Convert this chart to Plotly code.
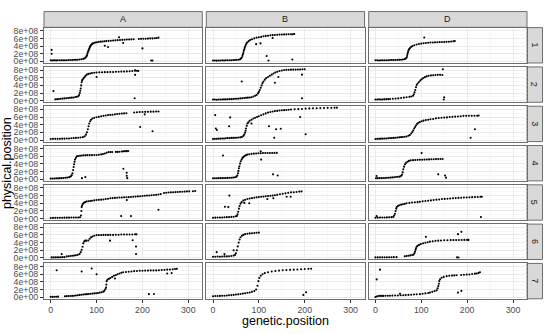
import plotly.graph_objects as go

genomes = ["A", "B", "D"]
chroms = ["1", "2", "3", "4", "5", "6", "7"]
x_ticks = [0, 100, 200, 300]
x_minor = [50, 150, 250]
y_ticks = [0, 2, 4, 6, 8]          # physical position in units of 1e8
y_minor = [1, 3, 5, 7]
y_tick_labels = ["0e+00", "2e+08", "4e+08", "6e+08", "8e+08"]

# (genetic.position, physical.position / 1e8)
pts_1A = [(0,0.3),(2,3.0),(2,2.0),(3,0.25),(6,0.3),(9,0.3),(12,0.25),(15,0.3),(19,0.3),(23,0.3),(27,0.3),(31,0.3),(35,0.3),(39,0.35),(43,0.35),(47,0.35),(51,0.4),(55,0.4),(59,0.45),(63,0.5),(67,0.55),(71,0.65),(74,0.8),(76,1.0),(78,1.3),(79,1.6),(80,2.0),(81,2.4),(82,2.7),(83,3.0),(84,3.3),(85,3.6),(86,3.9),(87,4.1),(88,4.3),(90,4.5),(92,4.7),(95,4.85),(98,4.95),(101,5.0),(105,5.1),(109,5.15),(113,5.2),(117,5.25),(121,5.3),(126,5.35),(131,5.4),(136,5.45),(141,5.5),(146,5.55),(151,5.6),(156,5.62),(161,5.65),(166,5.7),(171,5.72),(176,5.75),(181,5.8),(192,5.85),(197,5.88),(202,5.9),(207,5.92),(212,5.95),(217,6.0),(222,6.0),(227,6.05),(231,6.1),(235,6.2),
          (118,4.1),(125,3.75),(149,6.3),(158,4.8),(200,3.4),(219,0.25),(222,0.25)]
pts_1B = [(0,0.25),(4,0.25),(8,0.2),(12,0.25),(16,0.25),(20,0.3),(24,0.25),(28,0.3),(32,0.3),(36,0.3),(40,0.3),(44,0.35),(48,0.35),(52,0.4),(56,0.45),(59,0.55),(61,0.75),(62.5,0.95),(64,1.4),(65,1.8),(66,2.2),(67,2.7),(68,3.1),(69,3.5),(70,3.9),(71.5,4.3),(73,4.7),(75,5.0),(78,5.3),(81,5.6),(85,5.8),(90,6.0),(95,6.2),(100,6.3),(105,6.4),(110,6.55),(115,6.65),(120,6.7),(125,6.8),(130,6.85),(135,6.9),(140,6.95),(145,7.0),(150,7.0),(155,7.05),(160,7.05),(165,7.1),(170,7.1),(174,7.1),(177,7.15),
          (94,4.5),(103.6,4.7),(130,6.1),(117,1.4),(121,0.25),(173,0.5)]
pts_1D = [(0,0.3),(4,0.3),(8,0.25),(12,0.3),(16,0.3),(20,0.3),(24,0.3),(28,0.3),(32,0.35),(36,0.35),(40,0.35),(44,0.35),(48,0.4),(52,0.4),(56,0.45),(60,0.5),(64,0.6),(66,0.75),(68,0.95),(69,1.4),(70,1.9),(71,2.4),(72,2.8),(73.5,3.2),(75.5,3.5),(78,3.8),(81,4.0),(85,4.2),(90,4.4),(95,4.55),(100,4.65),(105,4.75),(110,4.82),(115,4.88),(120,4.92),(125,4.95),(130,4.97),(135,5.0),(140,5.02),(145,5.05),(150,5.08),(155,5.1),(160,5.12),(165,5.2),(170,5.25),(173,5.3),
          (106.5,6.25)]
pts_2A = [(6,2.5),(10,0.35),(14,0.4),(18,0.45),(22,0.5),(26,0.55),(30,0.6),(34,0.65),(38,0.7),(42,0.75),(46,0.8),(50,0.85),(54,0.95),(57,1.05),(60,1.15),(62,1.5),(63.5,2.0),(64.5,2.6),(65.5,3.2),(66.5,4.0),(67.5,4.8),(68.5,5.3),(70,5.6),(72,5.9),(74,6.2),(76,6.5),(78.5,6.8),(82,7.0),(86,7.1),(90,7.2),(95,7.3),(100,7.35),(106,7.4),(112,7.42),(118,7.45),(124,7.45),(130,7.5),(136,7.5),(142,7.55),(148,7.55),(154,7.6),(160,7.6),(166,7.65),(172,7.7),(178,7.75),(184,7.8),(188,7.8),(191,7.75),
          (100,6.2),(184,6.75),(183,0.65),(184,7.95)]
pts_2B = [(0,0.3),(4,0.3),(8,0.25),(12,0.3),(16,0.3),(20,0.3),(24,0.35),(28,0.35),(32,0.35),(36,0.4),(40,0.4),(44,0.45),(48,0.5),(52,0.5),(56,0.55),(60,0.6),(64,0.65),(68,0.7),(72,0.75),(76,0.8),(80,0.85),(84,0.9),(88,1.1),(92,1.3),(95,1.5),(98,1.9),(100,2.3),(102,2.8),(104,3.4),(106,4.0),(108,4.6),(110,5.0),(113,5.5),(116,5.9),(120,6.2),(124,6.5),(128,6.8),(132,7.1),(136,7.35),(140,7.55),(145,7.75),(150,7.9),(155,8.0),(160,8.05),(165,8.05),(170,8.1),(175,8.1),(180,8.12),(185,8.15),(190,8.15),(195,8.2),(200,8.2),
          (62.6,5.0),(142.5,6.2),(135,4.7),(194,6.8),(194,0.65)]
pts_2D = [(0,0.3),(4,0.3),(8,0.35),(12,0.3),(16,0.35),(20,0.35),(24,0.4),(28,0.4),(32,0.45),(38,0.5),(44,0.55),(50,0.6),(56,0.7),(62,0.8),(68,0.9),(74,1.0),(78,1.1),(82,1.3),(84,1.7),(85.5,2.2),(87,2.8),(88.5,3.5),(90,4.1),(92,4.5),(95,4.9),(98,5.3),(101,5.6),(104,5.9),(108,6.15),(112,6.35),(116,6.5),(121,6.6),(126,6.65),(131,6.7),(136,6.75),(141,6.75),(146,6.7),
          (147,8.2),(150,0.9),(149,0.3)]
pts_3A = [(0,0.25),(5,0.3),(10,0.3),(15,0.3),(20,0.3),(25,0.35),(30,0.35),(35,0.4),(40,0.4),(45,0.45),(50,0.5),(55,0.55),(60,0.6),(65,0.65),(70,0.75),(74,0.95),(77,1.4),(79,2.0),(81,2.8),(82.5,3.6),(84,4.3),(86,4.9),(88,5.3),(91,5.6),(95,5.8),(100,5.95),(105,6.05),(110,6.2),(115,6.3),(120,6.4),(125,6.5),(130,6.55),(135,6.6),(140,6.7),(145,6.8),(150,6.85),(155,6.9),(160,6.95),(165,7.0),(182,7.2),(188,7.25),(194,7.3),(200,7.3),(206,7.35),(212,7.35),(218,7.4),(224,7.4),(230,7.45),(235,7.45),
          (195,3.4),(222,2.3),(205,6.7)]
pts_3B = [(0,0.28),(4,0.3),(8,0.3),(12,0.35),(16,0.35),(20,0.4),(24,0.4),(28,0.45),(32,0.5),(36,0.5),(40,0.55),(44,0.55),(48,0.6),(52,0.6),(56,0.65),(60,0.7),(63,0.8),(66,1.05),(68,1.4),(70,1.9),(71,2.4),(72,3.0),(73.5,3.7),(75,4.3),(77,4.6),(80,5.0),(84,5.3),(88,5.6),(92,5.8),(96,6.0),(100,6.2),(105,6.45),(110,6.7),(115,6.95),(120,7.15),(125,7.3),(130,7.45),(135,7.55),(140,7.6),(145,7.7),(150,7.75),(155,7.8),(160,7.85),(165,7.9),(170,7.95),(178,8.0),(186,8.05),(194,8.1),(202,8.2),(210,8.25),(218,8.3),(226,8.3),(234,8.35),(242,8.35),(250,8.4),(258,8.4),(265,8.45),(270,8.45),
          (4.8,6.5),(6.2,3.0),(8.4,2.6),(37.4,5.9),(35.2,3.6),(84,4.3),(122,3.6),(137.5,2.8),(147.7,2.95),(133.4,0.6),(190,6.0),(202,1.5)]
pts_3D = [(0,0.28),(4,0.3),(8,0.3),(12,0.35),(16,0.35),(20,0.4),(24,0.4),(28,0.45),(32,0.5),(36,0.5),(40,0.55),(44,0.6),(48,0.65),(52,0.7),(56,0.75),(60,0.8),(64,0.85),(68,0.9),(72,1.1),(75,1.3),(78,1.7),(80.5,2.1),(82.5,2.5),(84.5,3.0),(86.5,3.4),(88.5,3.8),(91,4.2),(94,4.5),(97,4.7),(101,4.9),(105,5.05),(110,5.2),(115,5.3),(120,5.4),(126,5.5),(132,5.65),(138,5.75),(144,5.8),(150,5.85),(156,5.9),(162,6.0),(168,6.05),(174,6.1),(180,6.15),(186,6.2),(192,6.3),(198,6.3),(204,6.32),(210,6.35),(216,6.35),(222,6.35),(225,6.4),
          (217,2.8),(207.7,0.6)]
pts_4A = [(0,0.18),(4,0.2),(8,0.2),(12,0.25),(16,0.25),(20,0.3),(24,0.3),(28,0.35),(32,0.4),(36,0.45),(40,0.55),(42,0.65),(44,0.8),(46,1.1),(47.5,1.6),(49,2.4),(50,3.2),(51,3.9),(52,4.6),(53,5.15),(55,5.6),(57,6.0),(60,6.1),(64,6.15),(68,6.2),(72,6.25),(76,6.25),(80,6.3),(85,6.3),(90,6.32),(95,6.35),(100,6.35),(105,6.4),(110,6.5),(114,6.6),(118,6.75),(122,6.95),(126,7.1),(130,7.1),(134,7.1),(142,7.15),(146,7.15),(150,7.2),(155,7.25),(158,7.3),(162,7.35),(166,7.35),(169,7.4),
          (68.2,0.3),(75.5,0.6),(158.5,2.75),(165.7,1.7),(165.7,0.9),(167,0.3)]
pts_4B = [(0,0.26),(4,0.28),(8,0.28),(12,0.3),(16,0.3),(20,0.32),(24,0.33),(28,0.35),(32,0.37),(36,0.4),(40,0.42),(44,0.45),(48,0.55),(51,0.7),(53,1.0),(54.5,1.6),(55.5,2.2),(56.5,2.9),(57.5,3.4),(59,4.1),(60.5,4.7),(62.5,5.2),(64.5,5.6),(66.5,5.85),(69,6.1),(72,6.3),(75,6.45),(79,6.55),(84,6.65),(89,6.7),(94,6.75),(99,6.8),(104,6.82),(109,6.85),(114,6.85),(119,6.85),(124,6.87),(129,6.87),(134,6.9),(139,6.9),
          (21.8,6.2),(104,7.3),(105,5.15),(130.8,1.3),(141,1.0)]
pts_4D = [(1.3,0.26),(2.5,0.85),(5,0.3),(9,0.3),(13,0.32),(17,0.35),(21,0.35),(25,0.4),(29,0.42),(33,0.45),(37,0.5),(41,0.55),(45,0.6),(49,0.65),(53,0.7),(56,0.9),(58,1.2),(59.5,1.8),(60.8,2.6),(62.5,3.3),(64.5,3.9),(67,4.3),(70,4.6),(73,4.8),(77,4.95),(82,5.0),(87,5.05),(92,5.08),(97,5.1),(102,5.12),(107,5.15),(112,5.18),(117,5.2),(122,5.22),(127,5.25),(132,5.27),(137,5.28),(142,5.3),(146.5,5.3),
          (100.8,6.85),(137,1.3),(151.7,1.0),(154,0.43)]
pts_5A = [(0,0.15),(5,0.18),(10,0.2),(15,0.2),(20,0.22),(25,0.22),(30,0.25),(35,0.25),(40,0.25),(45,0.28),(50,0.28),(55,0.3),(60,0.3),(64,0.35),(66,0.8),(67,2.0),(67.5,3.0),(68.5,3.4),(70,3.8),(72,4.1),(75,4.3),(78,4.45),(82,4.55),(86,4.6),(90,4.65),(95,4.75),(100,4.85),(105,4.9),(110,4.95),(115,5.0),(120,5.1),(125,5.2),(130,5.3),(135,5.35),(140,5.4),(145,5.45),(150,5.5),(155,5.52),(160,5.55),(165,5.58),(170,5.6),(175,5.65),(180,5.7),(185,5.75),(190,5.8),(195,5.85),(200,5.9),(205,5.95),(210,6.0),(215,6.05),(220,6.1),(225,6.15),(230,6.2),(235,6.3),(240,6.4),(247,6.7),(252,6.75),(257,6.8),(262,6.85),(267,6.9),(272,6.92),(277,6.95),(282,6.98),(287,7.0),(292,7.05),(297,7.1),(302,7.12),(310,7.15),(315,7.2),
          (166,4.85),(235,2.3),(153.5,0.65),(175,0.65)]
pts_5B = [(0,0.23),(5,0.25),(10,0.28),(15,0.3),(20,0.3),(25,0.35),(30,0.38),(35,0.4),(40,0.45),(45,0.5),(50,0.6),(52,0.7),(53.5,1.1),(55,1.8),(56.5,2.6),(58,3.3),(60,3.9),(62.5,4.3),(66,4.7),(70,4.9),(75,5.1),(80,5.25),(85,5.35),(90,5.45),(95,5.55),(100,5.62),(105,5.7),(110,5.75),(115,5.82),(120,5.9),(125,5.95),(130,6.0),(135,6.1),(140,6.2),(146,6.35),(152,6.5),(158,6.6),(164,6.75),(170,6.85),(176,6.9),(182,6.95),(188,7.05),(193,7.1),
          (35.7,6.0),(26,3.1),(33.4,3.0),(68.3,4.1),(79,4.0),(118.5,5.1),(131.6,5.3),(160.6,5.7),(169.3,5.7)]
pts_5D = [(0,0.23),(2.7,0.65),(5,0.25),(10,0.28),(15,0.3),(20,0.3),(25,0.32),(30,0.35),(35,0.38),(39,0.45),(41,0.8),(42.7,1.25),(44,2.0),(45.5,2.6),(46.5,3.0),(49,3.3),(52,3.5),(56,3.65),(60,3.75),(64,3.85),(68,4.0),(74,4.1),(80,4.2),(86,4.25),(92,4.3),(97,4.4),(103,4.5),(109,4.6),(115,4.65),(121,4.75),(127,4.85),(133,4.95),(139,5.0),(145,5.1),(151,5.15),(157,5.2),(163,5.25),(169,5.3),(175,5.35),(181,5.4),(187,5.45),(193,5.5),(199,5.52),(205,5.55),(211,5.6),(217,5.62),(223,5.65),(229,5.7),(232,5.72),
          (230,0.4)]
pts_6A = [(2,0.13),(6,0.13),(10,0.15),(14,0.15),(18,0.15),(22,0.18),(26,0.2),(30,0.2),(35,0.4),(39,0.45),(43,0.5),(47,0.55),(51,0.6),(55,0.7),(59,0.8),(63,1.0),(65.5,1.5),(67.5,2.1),(69.5,2.9),(71.2,3.8),(73,4.3),(75,4.5),(78,4.5),(82,4.55),(85,5.0),(88,5.4),(91,5.6),(95,5.8),(100,5.95),(105,5.95),(110,5.95),(115,6.0),(120,6.0),(125,6.0),(130,6.0),(136,6.0),(142,6.05),(148,6.05),(154,6.1),(160,6.1),(166,6.1),(172,6.1),(178,6.12),(184,6.15),(187,6.15),
          (23.9,1.0),(129.3,4.5),(178.7,4.6),(186,2.95),(186,1.0)]
pts_6B = [(0,0.3),(5,0.3),(10,0.35),(15,0.3),(20,0.35),(25,0.4),(30,0.4),(35,0.45),(40,0.5),(45,0.6),(48,0.8),(50,1.2),(52,2.0),(54,3.0),(56,4.0),(58,4.8),(60,5.4),(63,5.8),(66,6.0),(70,6.2),(75,6.3),(80,6.4),(85,6.45),(90,6.5),(95,6.55),(100,6.6),
          (8,1.5),(25,1.0),(45,2.0)]
pts_6D = [(0,0.13),(5,0.13),(10,0.15),(15,0.15),(20,0.15),(25,0.15),(30,0.18),(35,0.18),(40,0.2),(46,0.2),(64,0.45),(68,0.5),(72,0.55),(76,0.65),(80,0.75),(83,0.85),(85,1.2),(86.3,1.6),(87.5,2.1),(88.5,2.5),(90,2.9),(92,3.15),(95,3.4),(99,3.6),(104,3.8),(109,3.95),(114,4.1),(119,4.25),(125,4.35),(131,4.45),(137,4.5),(143,4.55),(150,4.6),(157,4.62),(164,4.65),(170,4.65),(176,4.65),(182,4.68),(188,4.68),(194,4.7),(200,4.7),(203,4.7),
          (110,5.5),(180,6.2),(187.5,6.8),(178,0.15),(181,0.1)]
pts_7A = [(0,0.1),(4,0.1),(8,0.12),(12,0.12),(16,0.15),(31,0.26),(35,0.28),(39,0.3),(43,0.33),(47,0.35),(51,0.4),(55,0.45),(59,0.5),(63,0.6),(67,0.65),(71,0.7),(75,0.75),(79,0.8),(83,0.85),(87,0.9),(91,0.95),(95,1.0),(99,1.05),(103,1.1),(107,1.2),(111,1.3),(114.7,1.45),(117,1.7),(119,2.1),(120.6,2.5),(121.3,3.3),(122,4.2),(124,4.6),(127,4.8),(130,5.0),(134,5.3),(138,5.6),(142,5.8),(146,6.0),(150,6.2),(154,6.4),(158,6.5),(164,6.6),(170,6.65),(176,6.7),(182,6.8),(188,6.85),(194,6.9),(200,6.92),(206,6.95),(212,6.95),(218,7.0),(224,7.0),(230,7.0),(236,7.05),(242,7.1),(248,7.15),(254,7.2),(260,7.25),(266,7.3),(271,7.35),(275,7.4),
          (13,7.05),(67.5,6.7),(89.3,7.5),(100,6.0),(140,4.9),(214,0.8),(225,0.85),(254,6.2),(263.7,6.3)]
pts_7B = [(0,0.25),(5,0.3),(10,0.3),(15,0.35),(20,0.4),(25,0.4),(30,0.45),(35,0.5),(40,0.55),(45,0.6),(50,0.7),(55,0.75),(60,0.85),(65,0.95),(70,1.05),(75,1.15),(80,1.25),(85,1.4),(90,1.6),(94,2.0),(97,3.0),(99,4.2),(101,5.0),(104,5.6),(108,6.0),(113,6.3),(120,6.5),(128,6.7),(136,6.85),(144,6.95),(152,7.05),(160,7.1),(168,7.15),(176,7.2),(184,7.25),(192,7.3),(200,7.35),(208,7.4),(214,7.45),
          (197,0.6),(203,1.3)]
pts_7D = [(0,0.05),(2.8,0.2),(6,0.3),(10,0.35),(14,0.35),(17.3,0.35),(22,0.4),(27,0.4),(31.8,0.4),(37,0.42),(43,0.45),(49,0.45),(55,0.5),(60.8,0.5),(66,0.55),(72,0.6),(78,0.65),(84,0.7),(90,0.75),(97,0.8),(103,0.9),(109,1.0),(115,1.1),(119,1.2),(124,1.4),(129,1.6),(133.6,1.8),(135.5,2.3),(137.2,2.9),(138.3,3.5),(139.3,4.2),(141,4.7),(144.5,5.1),(149,5.3),(155.4,5.5),(161,5.6),(167,5.65),(172,5.7),(177,5.75),(187,5.8),(193,5.85),(199,5.9),(205,5.95),(211,6.05),(217,6.15),(221,6.2),(225,6.35),(228,6.5),
          (10,7.2),(2.8,4.65),(180,1.2),(187.5,1.65),(53.6,0.9)]

panel_data = {
    "1A": pts_1A, "1B": pts_1B, "1D": pts_1D,
    "2A": pts_2A, "2B": pts_2B, "2D": pts_2D,
    "3A": pts_3A, "3B": pts_3B, "3D": pts_3D,
    "4A": pts_4A, "4B": pts_4B, "4D": pts_4D,
    "5A": pts_5A, "5B": pts_5B, "5D": pts_5D,
    "6A": pts_6A, "6B": pts_6B, "6D": pts_6D,
    "7A": pts_7A, "7B": pts_7B, "7D": pts_7D,
}

W, H = 550, 334
col_left = [44.0, 206.3, 368.7]
pw = 158.3
row_top0, row_step, ph = 26.0, 39.9, 35.9
x_range = [-14.6, 330.5]
y_range = [-0.41, 8.82]

FONT = "Liberation Sans, Arial, sans-serif"
tickfont = dict(family=FONT, size=8.8, color="#4D4D4D")
border = "#6E6E6E"

fig = go.Figure()
layout = dict(
    width=W, height=H, margin=dict(l=0, r=0, t=0, b=0),
    paper_bgcolor="white", plot_bgcolor="white", showlegend=False,
)
shapes, annotations = [], []

def px_x(v):
    return v / W

def px_y(v):
    return 1 - v / H

for r, ch in enumerate(chroms):
    top = row_top0 + r * row_step
    for c, gn in enumerate(genomes):
        k = r * 3 + c + 1
        sfx = "" if k == 1 else str(k)
        left = col_left[c]
        pts = panel_data[ch + gn]
        fig.add_trace(go.Scatter(
            x=[p[0] for p in pts], y=[p[1] for p in pts],
            mode="markers", xaxis="x" + sfx, yaxis="y" + sfx,
            marker=dict(size=2.1, color="black", line=dict(width=0)),
            hoverinfo="skip",
        ))
        bottom_row = (r == len(chroms) - 1)
        first_col = (c == 0)
        layout["xaxis" + sfx] = dict(
            domain=[px_x(left), px_x(left + pw)], anchor="y" + sfx,
            range=x_range, tickvals=x_ticks, ticktext=[str(t) for t in x_ticks],
            showticklabels=bottom_row, ticks="outside" if bottom_row else "",
            ticklen=3, tickwidth=1, tickcolor="#333333", tickfont=tickfont,
            showgrid=True, gridcolor="#EBEBEB", gridwidth=1,
            minor=dict(tickvals=x_minor, showgrid=True, gridcolor="#F4F4F4", gridwidth=0.6, ticks=""),
            showline=True, mirror=True, linecolor=border, linewidth=1,
            zeroline=False, fixedrange=True,
        )
        layout["yaxis" + sfx] = dict(
            domain=[px_y(top + ph), px_y(top)], anchor="x" + sfx,
            range=y_range, tickvals=y_ticks, ticktext=y_tick_labels,
            showticklabels=first_col, ticks="outside" if first_col else "",
            ticklen=3, tickwidth=1, tickcolor="#333333", tickfont=tickfont,
            showgrid=True, gridcolor="#EBEBEB", gridwidth=1,
            minor=dict(tickvals=y_minor, showgrid=True, gridcolor="#F4F4F4", gridwidth=0.6, ticks=""),
            showline=True, mirror=True, linecolor=border, linewidth=1,
            zeroline=False, fixedrange=True,
        )

# top strips (genome)
strip_top, strip_bot = 9.7, 25.7
for c, gn in enumerate(genomes):
    left = col_left[c]
    shapes.append(dict(type="rect", xref="paper", yref="paper",
                       x0=px_x(left), x1=px_x(left + pw), y0=px_y(strip_bot), y1=px_y(strip_top),
                       fillcolor="#D9D9D9", line=dict(color=border, width=1), layer="below"))
    annotations.append(dict(x=px_x(left + pw / 2), y=px_y((strip_top + strip_bot) / 2),
                            xref="paper", yref="paper", text=gn, showarrow=False,
                            font=dict(family=FONT, size=9, color="#1A1A1A"),
                            xanchor="center", yanchor="middle"))

# right strips (chromosome)
rs_left, rs_right = 527.0, 542.5
for r, ch in enumerate(chroms):
    top = row_top0 + r * row_step
    shapes.append(dict(type="rect", xref="paper", yref="paper",
                       x0=px_x(rs_left), x1=px_x(rs_right), y0=px_y(top + ph), y1=px_y(top),
                       fillcolor="#D9D9D9", line=dict(color=border, width=1), layer="below"))
    annotations.append(dict(x=px_x((rs_left + rs_right) / 2), y=px_y(top + ph / 2),
                            xref="paper", yref="paper", text=ch, showarrow=False, textangle=90,
                            font=dict(family=FONT, size=9, color="#1A1A1A"),
                            xanchor="center", yanchor="middle"))

# axis titles
annotations.append(dict(x=px_x(285.5), y=px_y(324), xref="paper", yref="paper",
                        text="genetic.position", showarrow=False,
                        font=dict(family=FONT, size=12.5, color="black"),
                        xanchor="center", yanchor="middle"))
annotations.append(dict(x=px_x(7), y=px_y(163.5), xref="paper", yref="paper",
                        text="physical.position", showarrow=False, textangle=-90,
                        font=dict(family=FONT, size=12.5, color="black"),
                        xanchor="center", yanchor="middle"))

layout["shapes"] = shapes
layout["annotations"] = annotations
fig.update_layout(**layout)
fig.write_html(
    "out.html",
    config={"displayModeBar": False, "staticPlot": True},
    post_script="document.body.style.margin='0';document.body.style.padding='0';"
                "document.documentElement.style.overflow='hidden';",
)
